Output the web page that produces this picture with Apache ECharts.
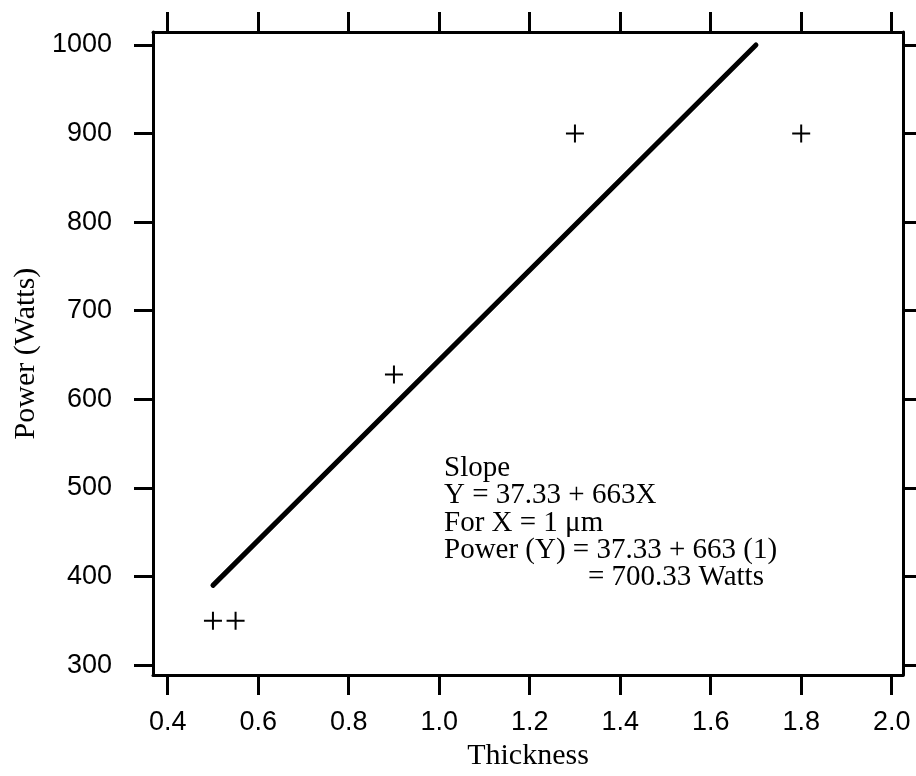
<!DOCTYPE html>
<html>
<head>
<meta charset="utf-8">
<script src="https://cdn.jsdelivr.net/npm/echarts@6/dist/echarts.min.js"></script>
<style>
html,body{margin:0;padding:0;background:#fff;}
#chart{width:916px;height:776px;}
</style>
</head>
<body>
<div id="chart"></div>
<script>
// Data
const xTicks = [0.4, 0.6, 0.8, 1.0, 1.2, 1.4, 1.6, 1.8, 2.0];
const yTicks = [300, 400, 500, 600, 700, 800, 900, 1000];
const thickness = [0.5, 0.55, 0.9, 1.3, 1.8];
const power = [350, 350, 628, 900, 900];
const fitX = [0.5, 1.7];
const fitY = [390, 1000];
const annotationLines = [
  'Slope',
  'Y = 37.33 + 663X',
  'For X = 1 \u03bcm',
  'Power (Y) = 37.33 + 663 (1)',
  '= 700.33 Watts'
];

const chart = echarts.init(document.getElementById('chart'));

const sans = 'Liberation Sans, Arial, Helvetica, sans-serif';
const serif = 'Liberation Serif, Times New Roman, serif';

const axisLineStyle = { color: '#000', width: 3 };
const tickStyle = { color: '#000', width: 3 };

const scatterData = thickness.map((x, i) => [x, power[i]]);
const fitData = fitX.map((x, i) => [x, fitY[i]]);

const annGraphics = annotationLines.map((t, i) => ({
  type: 'text',
  left: i === 4 ? 588 : 444,
  top: 454 + i * 27.2,
  style: {
    text: t,
    font: '29px ' + serif,
    fill: '#000'
  }
}));

const option = {
  animation: false,
  backgroundColor: '#fff',
  grid: { left: 153, right: 13, top: 32, bottom: 100, containLabel: false },
  xAxis: [
    {
      type: 'value', position: 'bottom', min: 0.3675, max: 2.025,
      name: 'Thickness', nameLocation: 'middle', nameGap: 65,
      nameTextStyle: { fontFamily: serif, fontSize: 30, color: '#000' },
      axisLine: { show: true, lineStyle: axisLineStyle },
      axisTick: { show: true, length: 20, lineStyle: tickStyle, customValues: xTicks },
      axisLabel: { show: true, margin: 34, fontFamily: sans, fontSize: 27, color: '#000',
        customValues: xTicks, formatter: v => v.toFixed(1) },
      splitLine: { show: false }
    },
    {
      type: 'value', position: 'top', min: 0.3675, max: 2.025,
      axisLine: { show: true, lineStyle: axisLineStyle },
      axisTick: { show: true, length: 20, lineStyle: tickStyle, customValues: xTicks },
      axisLabel: { show: false },
      splitLine: { show: false }
    }
  ],
  yAxis: [
    {
      type: 'value', position: 'left', min: 288.7, max: 1014.6,
      name: 'Power (Watts)', nameLocation: 'middle', nameGap: 102,
      nameTextStyle: { fontFamily: serif, fontSize: 30, color: '#000' },
      axisLine: { show: true, lineStyle: axisLineStyle },
      axisTick: { show: true, length: 19, lineStyle: tickStyle, customValues: yTicks },
      axisLabel: { show: true, margin: 41, fontFamily: sans, fontSize: 27, color: '#000',
        customValues: yTicks, formatter: v => String(v) },
      splitLine: { show: false }
    },
    {
      type: 'value', position: 'right', min: 288.7, max: 1014.6,
      axisLine: { show: true, lineStyle: axisLineStyle },
      axisTick: { show: true, length: 19, lineStyle: tickStyle, customValues: yTicks },
      axisLabel: { show: false },
      splitLine: { show: false }
    }
  ],
  series: [
    {
      type: 'line', data: fitData, xAxisIndex: 0, yAxisIndex: 0,
      symbol: 'none', lineStyle: { color: '#000', width: 5, cap: 'round' },
      silent: true
    },
    {
      type: 'scatter', data: scatterData, xAxisIndex: 0, yAxisIndex: 0,
      symbol: 'path://M0,8h18v2h-18z M8,0h2v18h-2z', symbolSize: 18,
      itemStyle: { color: '#000', opacity: 1 }
    }
  ],
  graphic: annGraphics
};

chart.setOption(option);
</script>
</body>
</html>
